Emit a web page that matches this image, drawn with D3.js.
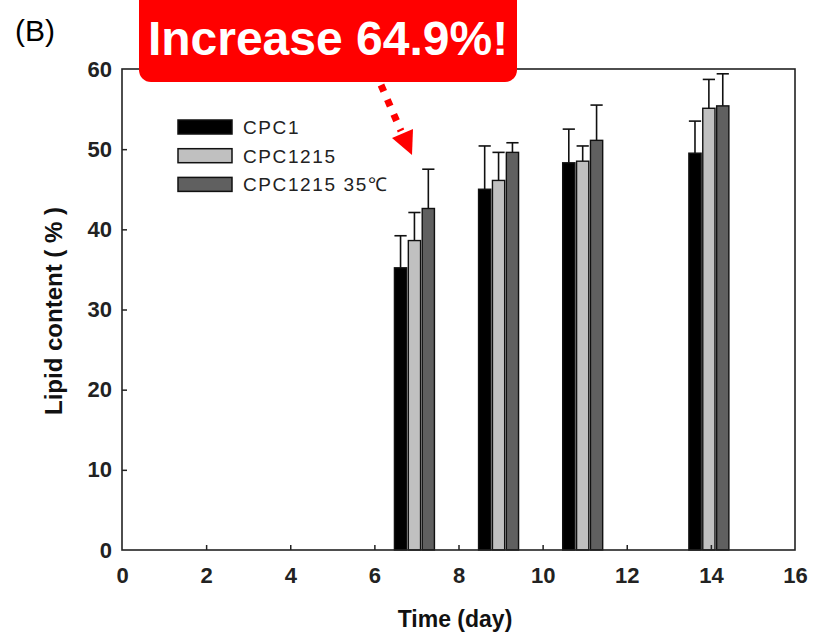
<!DOCTYPE html>
<html>
<head>
<meta charset="utf-8">
<script src="https://cdn.jsdelivr.net/npm/d3@7"></script>
<style>
  body { margin: 0; background: #fff; }
  svg { display: block; font-family: Arial, "Liberation Sans", sans-serif; }
  .tick text { font-weight: bold; font-size: 22px; fill: #222; }
  .legend text { font-size: 19px; fill: #222; letter-spacing: 1.6px; }
</style>
</head>
<body>
<div id="chart"></div>
<script>
// days and series (lipid %)
var days = [7, 9, 11, 14];
var seriesNames = ["CPC1", "CPC1215", "CPC1215 35\u2103"];
var cpc1 = [35.2, 45.0, 48.3, 49.5];
var cpc1Err = [4.0, 5.4, 4.2, 4.0];
var cpc1215 = [38.6, 46.1, 48.5, 55.1];
var cpc1215Err = [3.5, 3.5, 1.9, 3.6];
var cpc1215hot = [42.6, 49.6, 51.1, 55.4];
var cpc1215hotErr = [4.9, 1.2, 4.4, 4.0];
var colors = ["#000000", "#c0c0c0", "#606060"];
var xTicks = [0, 2, 4, 6, 8, 10, 12, 14, 16];
var yTicks = [0, 10, 20, 30, 40, 50, 60];

var w = 819;
var h = 637;
// plot box (window.top is reserved, so use other names)
var plotL = 122, plotR = 795, plotT = 69, plotB = 550;

var values = [cpc1, cpc1215, cpc1215hot];
var errors = [cpc1Err, cpc1215Err, cpc1215hotErr];

var xScale = d3.scaleLinear().domain([0, 16]).range([plotL, plotR]);
var yScale = d3.scaleLinear().domain([0, 60]).range([plotB, plotT]);
// position of each series inside a day group (group sits a touch left of the day)
var inner = d3.scaleBand().domain(seriesNames).range([-22, 18]).paddingInner(0.12);

var svg = d3.select("#chart")
    .append("svg")
    .attr("width", w)
    .attr("height", h);

// flatten into one row per bar
var rows = [];
days.forEach(function(d, i) {
    seriesNames.forEach(function(s, j) {
        rows.push({ day: d, series: s, idx: j, v: values[j][i], e: errors[j][i] });
    });
});

function barX(d) { return xScale(d.day) + inner(d.series); }

// error bars (only upward)
var eb = svg.append("g").attr("stroke", "#111").attr("stroke-width", 1.6);
eb.selectAll("line.stem")
    .data(rows)
    .enter()
    .append("line")
    .attr("class", "stem")
    .attr("x1", function(d) { return barX(d) + inner.bandwidth() / 2; })
    .attr("x2", function(d) { return barX(d) + inner.bandwidth() / 2; })
    .attr("y1", function(d) { return yScale(d.v); })
    .attr("y2", function(d) { return yScale(d.v + d.e); });
eb.selectAll("line.cap")
    .data(rows)
    .enter()
    .append("line")
    .attr("class", "cap")
    .attr("x1", function(d) { return barX(d); })
    .attr("x2", function(d) { return barX(d) + inner.bandwidth(); })
    .attr("y1", function(d) { return yScale(d.v + d.e); })
    .attr("y2", function(d) { return yScale(d.v + d.e); });

// bars
svg.selectAll("rect.bar")
    .data(rows)
    .enter()
    .append("rect")
    .attr("class", "bar")
    .attr("x", barX)
    .attr("width", inner.bandwidth())
    .attr("y", function(d) { return yScale(d.v); })
    .attr("height", function(d) { return yScale(0) - yScale(d.v); })
    .attr("fill", function(d) { return colors[d.idx]; })
    .attr("stroke", "#111")
    .attr("stroke-width", 1.4);

// axes with inward ticks
var xAxis = d3.axisBottom(xScale).tickValues(xTicks).tickSize(-5).tickPadding(17);
var yAxis = d3.axisLeft(yScale).tickValues(yTicks).tickSize(-5).tickPadding(10);

var gx = svg.append("g")
    .attr("transform", "translate(0," + plotB + ")")
    .call(xAxis);
var gy = svg.append("g")
    .attr("transform", "translate(" + plotL + ",0)")
    .call(yAxis);
[gx, gy].forEach(function(g) {
    g.select(".domain").remove();
    g.selectAll(".tick line").attr("stroke", "#222").attr("stroke-width", 1.5);
});
gx.selectAll(".tick").filter(function(d) { return d === 0 || d === 16; }).select("line").remove();
gy.selectAll(".tick").filter(function(d) { return d === 0 || d === 60; }).select("line").remove();

// frame
svg.append("rect")
    .attr("x", plotL).attr("y", plotT)
    .attr("width", plotR - plotL).attr("height", plotB - plotT)
    .attr("fill", "none")
    .attr("stroke", "#222")
    .attr("stroke-width", 1.6);

// axis labels
svg.append("text")
    .attr("text-anchor", "middle")
    .attr("x", 455)
    .attr("y", 627)
    .style("font-weight", "bold")
    .style("font-size", "23px")
    .attr("fill", "#111")
    .text("Time (day)");

svg.append("text")
    .attr("text-anchor", "middle")
    .attr("transform", "translate(62,311) rotate(-90)")
    .style("font-weight", "bold")
    .style("font-size", "24px")
    .attr("fill", "#111")
    .text("Lipid content ( % )");

// legend
var legend = svg.append("g").attr("class", "legend");
seriesNames.forEach(function(s, j) {
    var cy = 127 + j * 28.7;
    legend.append("rect")
        .attr("x", 178).attr("y", cy - 7)
        .attr("width", 54).attr("height", 14)
        .attr("fill", colors[j])
        .attr("stroke", "#111")
        .attr("stroke-width", 1.5);
    legend.append("text")
        .attr("x", 243)
        .attr("y", cy + 7)
        .text(s);
});

// panel tag
svg.append("text")
    .attr("x", 15)
    .attr("y", 41)
    .style("font-size", "30px")
    .attr("fill", "#000")
    .text("(B)");

// callout
svg.append("rect")
    .attr("x", 139).attr("y", -12)
    .attr("width", 378).attr("height", 94)
    .attr("rx", 12)
    .attr("fill", "#ff0000");
svg.append("text")
    .attr("x", 328)
    .attr("y", 55)
    .attr("text-anchor", "middle")
    .style("font-weight", "bold")
    .style("font-size", "48px")
    .attr("fill", "#fff")
    .text("Increase 64.9%!");

// dotted arrow
svg.append("line")
    .attr("x1", 381).attr("y1", 85)
    .attr("x2", 401).attr("y2", 131)
    .attr("stroke", "#ff0000")
    .attr("stroke-width", 7)
    .attr("stroke-dasharray", "7,9");
svg.append("path")
    .attr("d", "M412,155 L392,138 L413,129 Z")
    .attr("fill", "#ff0000");
</script>
</body>
</html>
